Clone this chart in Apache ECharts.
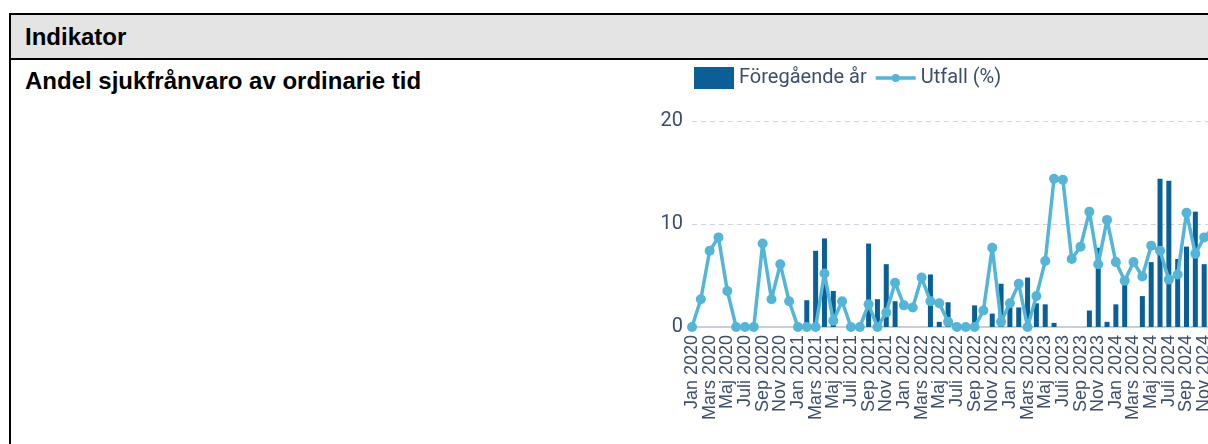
<!DOCTYPE html>
<html>
<head>
<meta charset="utf-8">
<script src="https://cdn.jsdelivr.net/npm/echarts@6/dist/echarts.min.js"></script>
<style>
  body { margin: 0; width: 1208px; height: 444px; overflow: hidden; position: relative; background: #fff; }
  .tbl { position: absolute; left: 9px; top: 13px; width: 1400px; height: 600px; border: 2px solid #000; }
  .head { height: 43px; background: #e4e4e4; border-bottom: 2px solid #000; }
  .cell { font-family: "Liberation Sans", Arial, sans-serif; font-weight: bold; font-size: 24px; color: #000; padding-left: 14px; }
  .head .cell { line-height: 43px; }
  .title { position: absolute; top: 54px; line-height: 24px; }
  #chart { position: absolute; left: 600px; top: 60px; width: 640px; height: 384px; }
</style>
</head>
<body>
<div class="tbl">
  <div class="head"><div class="cell">Indikator</div></div>
  <div class="cell title">Andel sjukfrånvaro av ordinarie tid</div>
</div>
<div id="chart"></div>
<script>
// månader jan 2020 - dec 2024
const months = ['Jan', 'Feb', 'Mars', 'April', 'Maj', 'Juni', 'Juli', 'Aug', 'Sep', 'Okt', 'Nov', 'Dec']
const years = [2020, 2021, 2022, 2023, 2024]
const categories = []
years.forEach(y => months.forEach(m => categories.push(m + ' ' + y)))

// Utfall (%)
const utfall2020 = [0, 2.7, 7.4, 8.7, 3.5, 0, 0, 0, 8.1, 2.7, 6.1, 2.5]
const utfall2021 = [0, 0, 0, 5.2, 0.6, 2.5, 0, 0, 2.2, 0, 1.4, 4.3]
const utfall2022 = [2.1, 1.9, 4.8, 2.5, 2.3, 0.5, 0, 0, 0, 1.6, 7.7, 0.5]
const utfall2023 = [2.3, 4.2, 0, 3.0, 6.4, 14.4, 14.3, 6.6, 7.8, 11.2, 6.1, 10.4]
const utfall2024 = [6.3, 4.5, 6.3, 4.9, 7.9, 7.4, 4.6, 5.1, 11.1, 7.1, 8.7, 9.6]

// Föregående år
const prev2020 = [null, null, null, null, null, null, null, null, null, null, null, null]
const prev2021 = [0, 2.6, 7.4, 8.6, 3.5, 0, 0, 0, 8.1, 2.7, 6.1, 2.5]
const prev2022 = [0, 0, 0, 5.1, 0.5, 2.4, 0, 0, 2.1, 0, 1.3, 4.2]
const prev2023 = [2.1, 1.9, 4.8, 2.3, 2.2, 0.4, 0, 0, 0, 1.6, 7.7, 0.5]
const prev2024 = [2.2, 4.1, 0, 3.0, 6.3, 14.4, 14.2, 6.6, 7.8, 11.2, 6.1, 10.4]

const utfall = [...utfall2020, ...utfall2021, ...utfall2022, ...utfall2023, ...utfall2024]
const foregaende = [...prev2020, ...prev2021, ...prev2022, ...prev2023, ...prev2024]

const yTicks = [0, 10, 20]

const textColor = '#3d4e6b'
const lineColor = '#53b5d7'
// linje med liten punkt i legenden
const lineIcon = 'path://M0,2.25L40,2.25L40,5.75L0,5.75Z M16,4A4,4 0 1 1 24,4A4,4 0 1 1 16,4Z'

const chart = echarts.init(document.getElementById('chart'))

const option = {
  animation: false,
  legend: {
    left: 89,
    top: 2,
    itemWidth: 40,
    itemHeight: 22,
    itemGap: 9,
    textStyle: { fontFamily: 'Roboto', fontSize: 20, color: textColor },
    data: [
      { name: 'Föregående år', icon: 'rect' },
      { name: 'Utfall (%)', icon: lineIcon }
    ]
  },
  grid: { left: 92, top: 61, width: 521, height: 206 },
  xAxis: {
    type: 'category',
    boundaryGap: false,
    data: categories,
    axisTick: { show: false },
    axisLine: { lineStyle: { color: '#c8cfd8', width: 2 } },
    axisLabel: {
      interval: 0,
      // varannan månad visas
      formatter: (value, index) => (index % 2 === 0 ? value : ''),
      rotate: 90,
      margin: 8,
      hideOverlap: false,
      fontFamily: 'Liberation Sans',
      fontSize: 18,
      color: textColor
    }
  },
  yAxis: {
    type: 'value',
    min: yTicks[0],
    max: yTicks[yTicks.length - 1],
    interval: 10,
    axisLabel: { fontFamily: 'Roboto', fontSize: 20, color: textColor, margin: 9 },
    splitLine: { lineStyle: { type: [5, 4], color: '#ccd5df' } }
  },
  series: [
    {
      name: 'Föregående år',
      type: 'bar',
      data: foregaende,
      barWidth: 5,
      itemStyle: { color: '#0b5f97' }
    },
    {
      name: 'Utfall (%)',
      type: 'line',
      data: utfall,
      symbol: 'circle',
      symbolSize: 10,
      showSymbol: true,
      showAllSymbol: true,
      lineStyle: { width: 3.5, color: lineColor },
      itemStyle: { color: lineColor }
    }
  ]
}

chart.setOption(option)
</script>
</body>
</html>
